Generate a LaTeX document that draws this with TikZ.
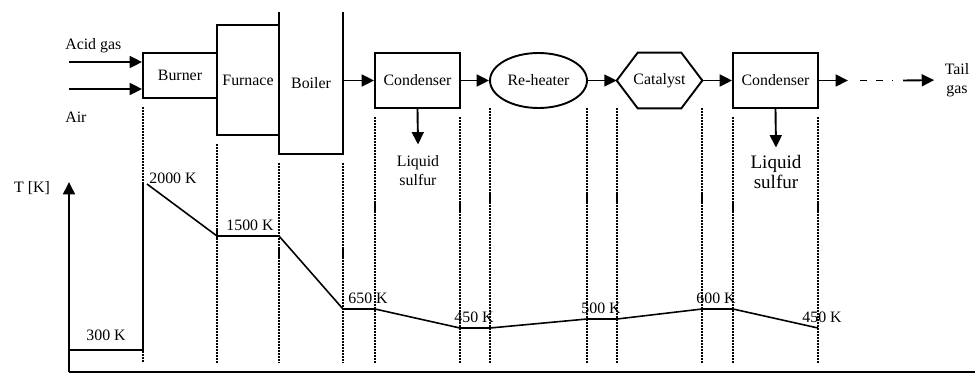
\documentclass[tikz,border=0pt]{standalone}
\usepackage{fontspec}
\setmainfont{Liberation Serif}
\usetikzlibrary{arrows.meta,shapes.geometric}

\def\px{0.63pt}

\tikzset{
  unit/.style={draw, line width=1.2pt, inner sep=0pt, font=\fontsize{10}{12}\selectfont},
  flow/.style={line width=1.2pt, -{Triangle[length=7.8pt,width=7.5pt]}},
  guide/.style={line width=1.4pt, dash pattern=on 1.3pt off 0.6pt},
  curve/.style={line width=1pt},
  tlabel/.style={inner sep=0pt, font=\fontsize{10}{12}\selectfont},
}

\begin{document}
\begin{tikzpicture}[x=\px, y=-\px]

  % Fix the page to the size of the reference
  \useasboundingbox (0,0) rectangle (976,375);

  % Process units along the gas line
  \node[unit, minimum width=74*\px, minimum height=45*\px] (burner) at (180,75.5) {Burner};
  \node[unit, minimum width=62*\px, minimum height=110*\px] (furnace) at (248,80) {Furnace};
  \node[tlabel, minimum width=64*\px, minimum height=142*\px] (boiler) at (311,83) {Boiler};
  \node[unit, minimum width=85*\px, minimum height=55*\px] (cond1) at (417.5,80.5) {Condenser};
  \node[unit, ellipse, minimum width=97*\px, minimum height=55*\px] (reheat) at (538.5,80.5) {Re-heater};
  \node[tlabel, minimum width=85*\px, minimum height=55*\px] (cat) at (659.5,80.5) {Catalyst};
  \node[unit, minimum width=85*\px, minimum height=55*\px] (cond2) at (775.5,80.5) {Condenser};

  % Boiler is open at the top
  \draw[line width=1.2pt] (boiler.north west) -- (boiler.south west)
    -- (boiler.south east) -- (boiler.north east);

  % Catalyst bed drawn as a flattened hexagon
  \draw[line width=1.2pt] (cat.west) -- ([xshift=21*\px]cat.north west)
    -- ([xshift=-21*\px]cat.north east) -- (cat.east)
    -- ([xshift=-21*\px]cat.south east) -- ([xshift=21*\px]cat.south west) -- cycle;

  % Feed streams
  \coordinate (acid) at (69,62);
  \coordinate (air) at (69,89);
  \draw[flow] (acid) -- (acid -| burner.west);
  \draw[flow] (air) -- (air -| burner.west);
  \node[tlabel, anchor=west] (acidlbl) at (65,46) {Acid gas};
  \node[tlabel, anchor=west] (airlbl) at (65,117) {Air};

  % Gas flow between units
  \draw[flow] (cond1.west -| boiler.east) -- (cond1.west);
  \draw[flow] (cond1.east) -- (reheat.west);
  \draw[flow] (reheat.east) -- (cat.west);
  \draw[flow] (cat.east) -- (cond2.west);

  % Tail gas outlet
  \coordinate (t1) at (848,80.5);
  \coordinate (t2) at (860,80.5);
  \coordinate (t3) at (893,80.5);
  \coordinate (t4) at (903,80.5);
  \node[tlabel, align=center] (tail) at (957,80) {Tail\\gas};
  \draw[flow] (cond2.east) -- (t1);
  \draw[line width=1.2pt, dash pattern=on 4.4pt off 5.7pt] (t2) -- (t3);
  \draw[flow, shorten >=6.5pt] (t4) -- (tail.west);

  % Liquid sulfur drains
  \node[tlabel, align=center, inner ysep=7pt] (liq1) at (418,171) {Liquid\\sulfur};
  \node[tlabel, align=center, inner ysep=5pt, font=\fontsize{12}{12}\selectfont] (liq2) at (776,172) {Liquid\\sulfur};
  \draw[flow] (cond1.south) -- (liq1.north);
  \draw[flow] (cond2.south) -- (liq2.north);

  % Dotted guides from each unit down to the axis
  \foreach \gx/\gy in {143/107, 217/144, 279/163, 343/163, 375/117, 460/117,
                       490/108, 587/108, 617/108, 702/108, 733/117, 818/117}
    \draw[guide] (\gx,\gy) -- (\gx,363);

  % Temperature axes
  \coordinate (origin) at (69,372);
  \draw[line width=1.2pt, -{Triangle[length=7.8pt,width=7.5pt]}] (origin) -- (69,182);
  \draw[line width=1.2pt] (origin) -- (975,372);
  \node[tlabel] (tk) at (32,188) {T [K]};

  % Temperature profile
  \draw[curve] (69,350) -- (143,350) -- (143,183);
  \draw[curve] (147,184) -- (217,236) -- (279,236) -- (343,309) -- (375,309)
    -- (460,328) -- (490,328) -- (587,319) -- (617,319) -- (702,309)
    -- (733,309) -- (818,328);

  % Temperature values
  \node[tlabel] (t300) at (106,335) {300 K};
  \node[tlabel] (t2000) at (173,178) {2000 K};
  \node[tlabel] (t1500) at (250,225) {1500 K};
  \node[tlabel] (t650) at (368,298) {650 K};
  \node[tlabel] (t450a) at (474,317) {450 K};
  \node[tlabel] (t500) at (601,308) {500 K};
  \node[tlabel] (t600) at (716,298) {600 K};
  \node[tlabel] (t450b) at (822,317) {450 K};

\end{tikzpicture}
\end{document}
